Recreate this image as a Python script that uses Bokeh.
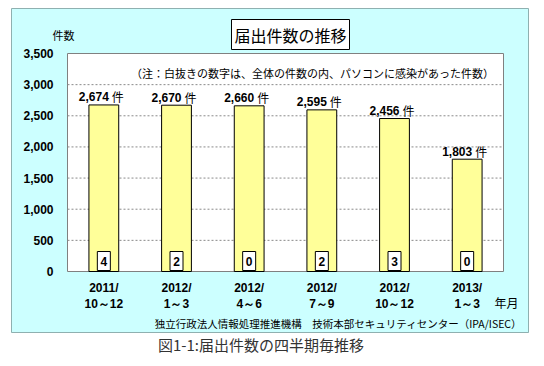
from bokeh.plotting import figure
from bokeh.models import Range1d, NumeralTickFormatter, FixedTicker, Label, Div, ColumnDataSource
from bokeh.layouts import column
from bokeh.core.properties import value
from bokeh.embed import file_html
from bokeh.resources import INLINE

# ---- data ----
periods = ["2011/\n10～12", "2012/\n1～3", "2012/\n4～6", "2012/\n7～9", "2012/\n10～12", "2013/\n1～3"]
totals = [2674, 2670, 2660, 2595, 2456, 1803]
pc_infected = [4, 2, 0, 2, 3, 0]
y_ticks = [0, 500, 1000, 1500, 2000, 2500, 3000, 3500]

title_text = "届出件数の推移"
y_unit = "件数"
x_unit = "年月"
note_text = "（注：白抜きの数字は、全体の件数の内、パソコンに感染があった件数）"
source_text = "独立行政法人情報処理推進機構　技術本部セキュリティセンター（IPA/ISEC）"
caption_text = "図1-1:届出件数の四半期毎推移"

# ---- geometry (page pixels) ----
FIG_L, FIG_T = 11, 8
FIG_W, FIG_H = 518, 325
FIG_R, FIG_B = FIG_L + FIG_W, FIG_T + FIG_H
PA_L, PA_R, PA_T, PA_B = 67, 503, 53, 271      # white plot area
YMAX = y_ticks[-1]
N = len(periods)
UX = N / (PA_R - PA_L)          # x data units per pixel
UY = YMAX / (PA_B - PA_T)       # y data units per pixel

def px_x(px):
    return (px - PA_L) * UX

def px_y(py):
    return (PA_B - py) * UY

CJK = "Noto Sans CJK JP"
LAT = "Liberation Sans"
CYAN = "#CCFFFF"

p = figure(
    x_range=Range1d(px_x(FIG_L), px_x(FIG_R)),
    y_range=Range1d(px_y(FIG_B), px_y(FIG_T)),
    width=FIG_W, height=FIG_H,
    output_backend="svg", toolbar_location=None,
    min_border=0, min_border_left=0, min_border_right=0, min_border_top=0, min_border_bottom=0,
    border_fill_color=CYAN, background_fill_color=CYAN,
    outline_line_color="#8fb0b0",
)
p.margin = (FIG_T, 0, 0, FIG_L)

xpos = [i + 0.5 for i in range(N)]
src = ColumnDataSource(dict(
    x=xpos, total=totals, pc=[str(v) for v in pc_infected],
    num=[f"{v:,}" for v in totals], unit=["件"] * N,
))

# white plot area with grey border
p.quad(left=[0], right=[N], bottom=[0], top=[YMAX], fill_color="white",
       line_color="#808080", line_width=1)
# dashed grid lines
grid_y = y_ticks[1:-1]
p.segment(x0=[0] * len(grid_y), x1=[N] * len(grid_y), y0=grid_y, y1=grid_y,
          line_color="#8a8a8a", line_dash="2 2", line_width=1)

p.vbar(x="x", top="total", width=0.41, source=src,
       fill_color="#FFFF99", line_color="black", line_width=1)

p.text(x="x", y="total", text="num", source=src, text_align="right", text_baseline="alphabetic",
       x_offset=5, y_offset=-8, text_font=value(LAT), text_font_style="bold",
       text_font_size="12px", text_color="black")
p.text(x="x", y="total", text="unit", source=src, text_align="left", text_baseline="alphabetic",
       x_offset=8, y_offset=-8, text_font=value(CJK), text_font_size="12px", text_color="black")

box_y = px_y(260.5)
p.rect(x="x", y=box_y, width=13, height=19, width_units="screen", height_units="screen",
       source=src, fill_color="white", line_color="black", line_width=1)
p.text(x="x", y=box_y, text="pc", source=src, text_align="center", text_baseline="middle",
       text_font=value(LAT), text_font_style="bold", text_font_size="12px", text_color="black")

# axes fixed at the plot-area edges
p.yaxis.fixed_location = 0
p.yaxis.ticker = FixedTicker(ticks=y_ticks)
p.yaxis.formatter = NumeralTickFormatter(format="0,0")
p.yaxis.major_label_text_font = LAT
p.yaxis.major_label_text_font_style = "bold"
p.yaxis.major_label_text_font_size = "12px"
p.yaxis.major_label_text_color = "black"
p.yaxis.major_label_standoff = 8
p.yaxis.axis_line_color = None
p.yaxis.major_tick_line_color = None
p.yaxis.minor_tick_line_color = None

p.xaxis.fixed_location = 0
p.xaxis.ticker = FixedTicker(ticks=xpos)
p.xaxis.major_label_overrides = {x: lab for x, lab in zip(xpos, periods)}
p.xaxis.major_label_text_font = LAT
p.xaxis.major_label_text_font_style = "bold"
p.xaxis.major_label_text_font_size = "12px"
p.xaxis.major_label_text_color = "black"
p.xaxis.major_label_text_line_height = 1.2
p.xaxis.major_label_standoff = 3
p.xaxis.axis_line_color = None
p.xaxis.major_tick_line_color = None
p.xaxis.minor_tick_line_color = None

p.xgrid.grid_line_color = None
p.ygrid.grid_line_color = None

def add_label(px, py, text, size, **kw):
    p.add_layout(Label(x=px_x(px), y=px_y(py), text=text, text_align="center",
                       text_baseline="middle", text_font=CJK, text_font_size=size,
                       text_font_style="normal", text_color="black", **kw))

add_label(290, 34, title_text, "16px", background_fill_color="white",
          border_line_color="black", border_line_width=1, padding=3)
add_label(63, 34, y_unit, "11px")
add_label(312, 72, note_text, "11px")
add_label(506, 302, x_unit, "12px")
add_label(338, 323, source_text, "10.5px")

cap = Div(text=f'<div style="font-family:\'{CJK}\';font-size:15px;color:#333;'
               f'padding-left:147px;line-height:20px;">{caption_text}</div>',
          width=FIG_W, height=22, margin=(2, 0, 0, FIG_L))

layout = column(p, cap, spacing=0)
open("out.html", "w").write(file_html(layout, INLINE))
